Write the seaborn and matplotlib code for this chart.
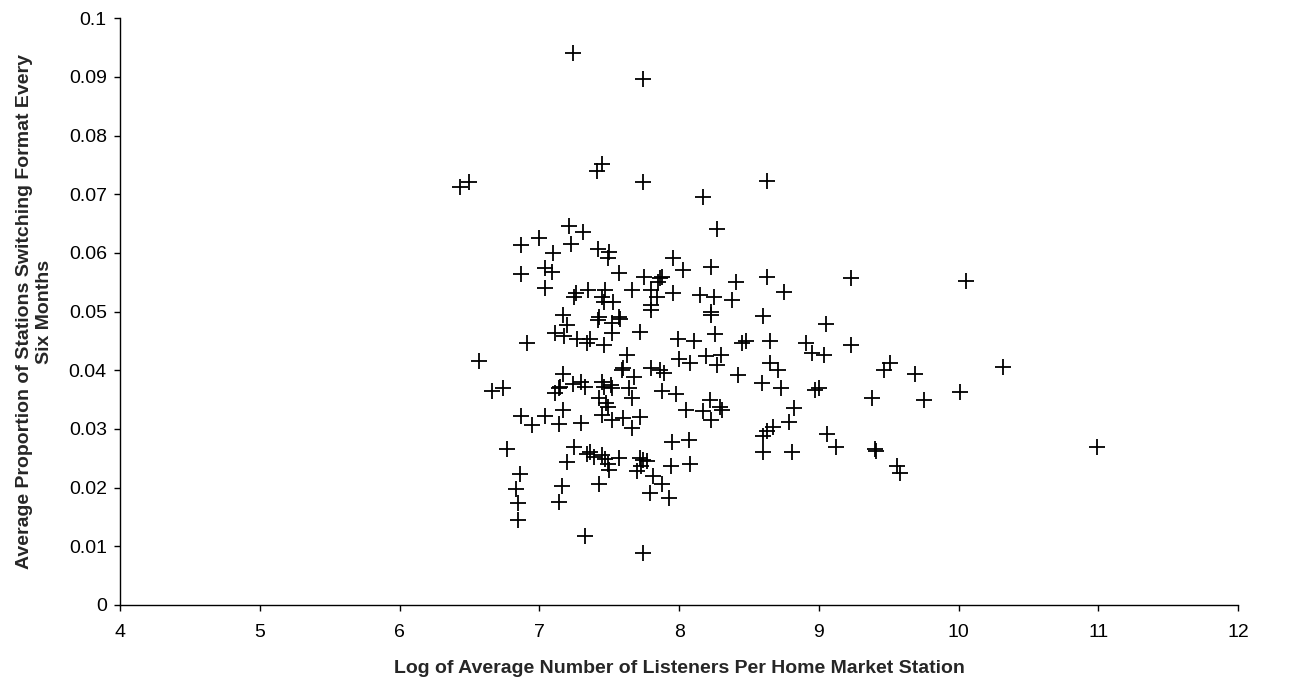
import matplotlib
matplotlib.use("Agg")
import matplotlib.pyplot as plt
import seaborn as sns
import pandas as pd
from matplotlib.ticker import FuncFormatter, MultipleLocator

log_listeners = [
    7.24, 7.74,
    6.43, 6.50, 7.45, 7.41, 7.21, 7.31, 6.87, 7.00, 7.23, 7.42, 7.50, 7.49, 7.10,
    6.87, 7.04, 7.09, 7.57, 7.04, 7.26, 7.25, 7.35, 7.47, 7.45, 7.46, 7.53, 7.17,
    7.20, 7.43, 7.42, 7.57, 7.52, 7.58, 7.11, 7.18, 7.27, 7.36, 7.34, 7.52, 6.91, 7.46,
    6.57, 6.66, 6.74, 7.17, 7.14, 7.11, 7.15, 7.24, 7.30, 7.33, 7.45, 7.46, 7.52, 7.51,
    7.59, 7.60, 7.64, 7.43, 7.48, 7.49, 7.45, 7.52, 7.60, 6.87, 6.95, 7.04, 7.17, 7.14,
    7.30, 6.77, 7.25, 7.20, 7.34, 7.36, 7.39, 7.45, 7.47, 7.49, 7.50, 7.57, 6.86, 6.83,
    6.85, 6.85, 7.16, 7.14, 7.43, 7.33,
    7.74, 8.63, 8.17, 8.27, 7.96, 8.03, 8.23, 7.75, 7.86, 7.88, 7.85, 8.63, 8.41, 8.75,
    7.66, 7.80, 7.84, 7.80, 7.80, 7.96, 8.15, 8.25, 8.38, 8.23, 8.23, 8.60, 7.72, 7.99,
    8.11, 8.26, 8.45, 8.48, 8.65, 8.91,
    7.63, 8.00, 8.08, 8.19, 8.27, 8.30, 7.68, 7.80, 7.86, 7.89, 8.42, 8.65, 8.71, 8.59,
    8.73, 7.66, 7.88, 7.98, 8.22, 8.29, 8.31, 8.05, 8.17, 8.23, 7.72, 7.66, 8.82, 8.79,
    8.67, 8.63, 8.60, 8.60, 8.81, 7.95, 8.07, 7.72, 7.74, 7.77, 7.70, 7.73, 7.94, 8.08,
    7.81, 7.88, 7.79, 7.93, 7.74,
    9.23, 10.05, 9.05, 9.23, 8.95, 9.04, 9.51, 9.47, 9.69, 10.32, 8.97, 9.00, 9.38,
    9.75, 10.01, 9.06, 9.12, 9.40, 9.41, 9.56, 9.58,
    10.99,
]

switch_prop = [
    0.0941, 0.0896,
    0.0713, 0.0721, 0.0751, 0.0740, 0.0646, 0.0636, 0.0613, 0.0626, 0.0615, 0.0606, 0.0602, 0.0591, 0.0599,
    0.0564, 0.0574, 0.0567, 0.0565, 0.0540, 0.0531, 0.0524, 0.0537, 0.0537, 0.0525, 0.0517, 0.0517, 0.0494,
    0.0477, 0.0491, 0.0486, 0.0491, 0.0480, 0.0488, 0.0464, 0.0458, 0.0453, 0.0453, 0.0446, 0.0464, 0.0447, 0.0443,
    0.0416, 0.0365, 0.0369, 0.0394, 0.0369, 0.0362, 0.0372, 0.0376, 0.0380, 0.0372, 0.0380, 0.0372, 0.0369, 0.0375,
    0.0400, 0.0403, 0.0369, 0.0352, 0.0344, 0.0338, 0.0324, 0.0315, 0.0318, 0.0322, 0.0307, 0.0322, 0.0333, 0.0308,
    0.0310, 0.0266, 0.0269, 0.0244, 0.0258, 0.0261, 0.0253, 0.0256, 0.0248, 0.0240, 0.0230, 0.0250, 0.0223, 0.0197,
    0.0174, 0.0145, 0.0202, 0.0176, 0.0206, 0.0118,
    0.0720, 0.0722, 0.0696, 0.0641, 0.0592, 0.0571, 0.0576, 0.0559, 0.0557, 0.0559, 0.0551, 0.0559, 0.0550, 0.0534,
    0.0537, 0.0537, 0.0525, 0.0511, 0.0503, 0.0531, 0.0528, 0.0524, 0.0520, 0.0500, 0.0494, 0.0493, 0.0466, 0.0454,
    0.0450, 0.0462, 0.0446, 0.0449, 0.0450, 0.0447,
    0.0426, 0.0420, 0.0412, 0.0424, 0.0409, 0.0426, 0.0389, 0.0403, 0.0400, 0.0395, 0.0392, 0.0412, 0.0400, 0.0378,
    0.0369, 0.0352, 0.0365, 0.0359, 0.0350, 0.0338, 0.0332, 0.0332, 0.0331, 0.0316, 0.0320, 0.0301, 0.0335, 0.0312,
    0.0303, 0.0297, 0.0288, 0.0261, 0.0261, 0.0277, 0.0281, 0.0250, 0.0247, 0.0246, 0.0229, 0.0236, 0.0237, 0.0241,
    0.0219, 0.0207, 0.0191, 0.0183, 0.0088,
    0.0558, 0.0552, 0.0479, 0.0443, 0.0429, 0.0426, 0.0413, 0.0401, 0.0394, 0.0406, 0.0366, 0.0370, 0.0352,
    0.0350, 0.0363, 0.0291, 0.0270, 0.0265, 0.0263, 0.0237, 0.0225,
    0.0270,
]

x_ticks = [4, 5, 6, 7, 8, 9, 10, 11, 12]
x_label = "Log of Average Number of Listeners Per Home Market Station"
y_label = "Average Proportion of Stations Switching Format Every\nSix Months"

df = pd.DataFrame({"x": log_listeners, "y": switch_prop})

sns.set_theme(style="white")
plt.rcParams["font.family"] = ["Liberation Sans", "DejaVu Sans"]

fig = plt.figure(figsize=(12.91, 6.84), dpi=100)
ax = fig.add_axes([0.093, 0.1155, 0.866, 0.858])

sns.scatterplot(data=df, x="x", y="y", marker="+", s=130, color="black",
                linewidth=1.3, ax=ax, legend=False)

ax.set_xlim(4, 12)
ax.set_ylim(0, 0.1)
ax.set_xticks(x_ticks)
ax.yaxis.set_major_locator(MultipleLocator(0.01))
ax.yaxis.set_major_formatter(FuncFormatter(lambda v, p: f"{round(v, 3):g}"))

for side in ["top", "right"]:
    ax.spines[side].set_visible(False)
for side in ["left", "bottom"]:
    ax.spines[side].set_color("black")
    ax.spines[side].set_linewidth(1.0)

ax.tick_params(axis="both", which="major", direction="out", length=4.5, width=1,
               color="black", labelsize=14, labelcolor="black", pad=5,
               bottom=True, left=True)
ax.tick_params(axis="x", pad=9)

ax.set_xlabel(x_label, fontsize=14, fontweight="bold", labelpad=14)
ax.set_ylabel(y_label, fontsize=14, fontweight="bold", labelpad=11, linespacing=1.25)

fig.savefig("out.png", dpi=100, facecolor="white")
